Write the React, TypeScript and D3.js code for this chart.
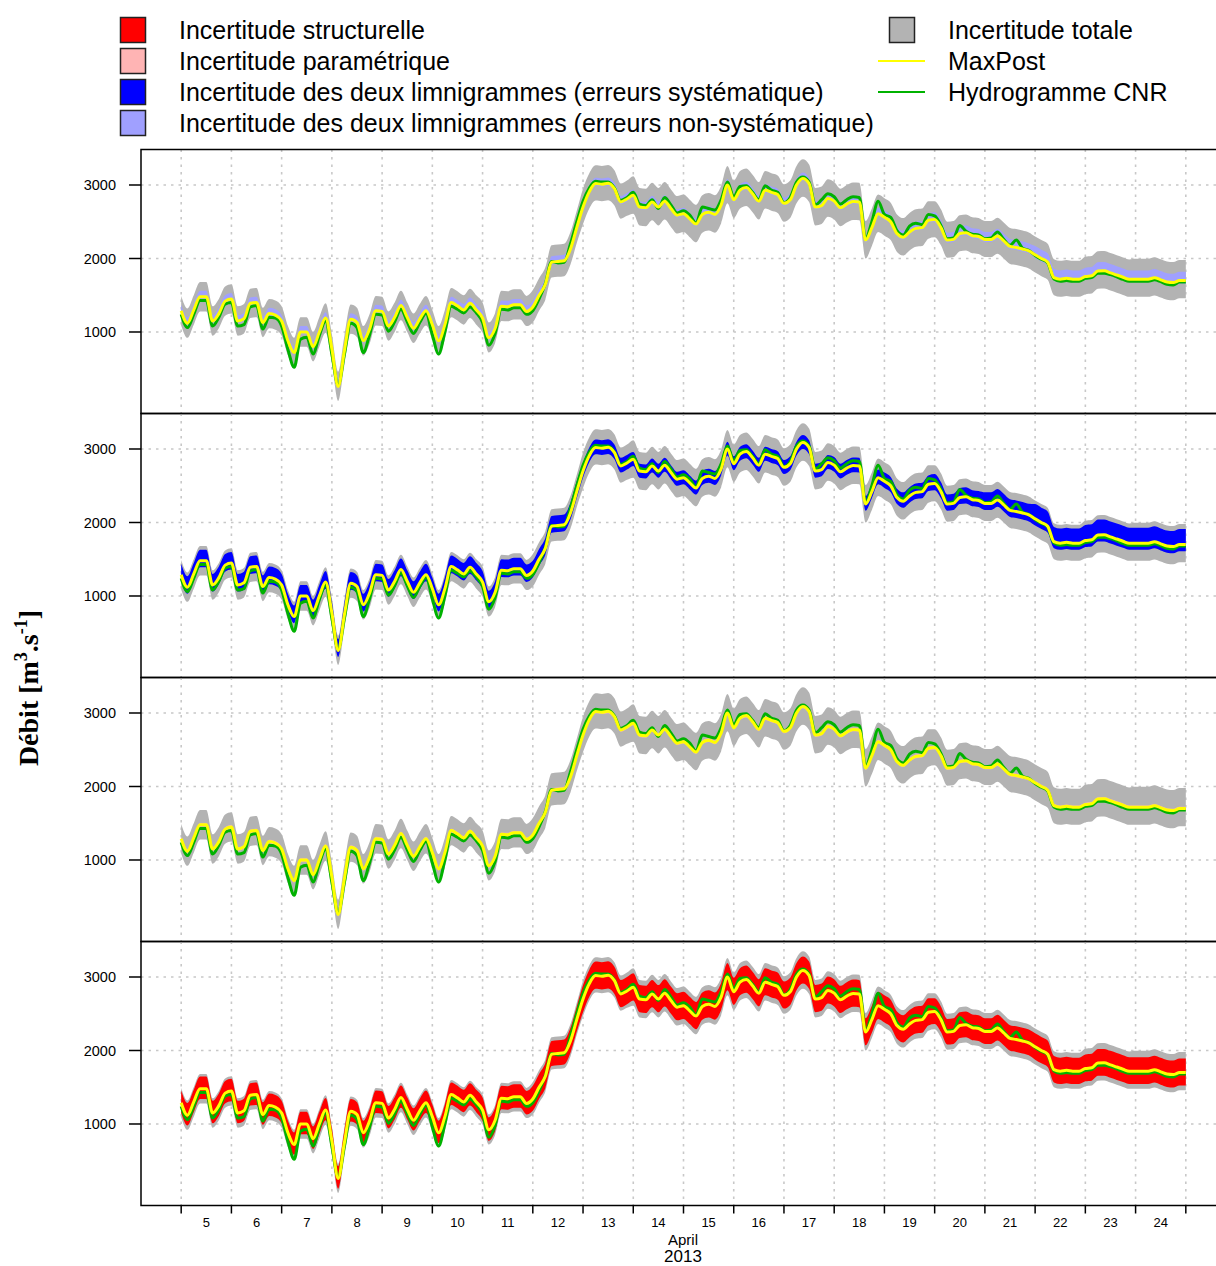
import React from 'react';
import * as d3 from 'd3';

const W = 1216;
const H = 1266;

// Sampling step of the series, in hours from 5 April 2013 00:00
const STEP_H = 3;

// MaxPost discharge (m3/s), every 3 h from 5 Apr 00:00 to 25 Apr 00:00
const maxPost = [
  1290, 1120, 1300, 1480, 1480, 1150, 1250, 1420, // 5
  1450, 1150, 1180, 1390, 1400, 1130, 1250, 1230, // 6
  1150, 880, 720, 1000, 1000, 800, 1000, 1190, // 7
  770, 260, 750, 1175, 1130, 880, 1040, 1290, // 8
  1280, 1080, 1200, 1360, 1200, 1050, 1180, 1290, // 9
  1100, 880, 1100, 1400, 1355, 1300, 1390, 1300, // 10
  1190, 920, 1050, 1350, 1345, 1370, 1370, 1280, // 11
  1340, 1500, 1650, 1950, 1960, 1970, 2130, 2420, // 12
  2700, 2910, 3020, 3010, 3023, 2950, 2770, 2810, // 13
  2860, 2700, 2690, 2770, 2700, 2780, 2680, 2590, // 14
  2610, 2540, 2470, 2600, 2630, 2600, 2730, 3000, // 15
  2800, 2930, 2965, 2880, 2780, 2930, 2900, 2870, // 16
  2750, 2800, 3000, 3090, 3020, 2700, 2720, 2818, // 17
  2780, 2690, 2740, 2775, 2770, 2250, 2420, 2610, // 18
  2560, 2500, 2340, 2290, 2360, 2410, 2420, 2520, // 19
  2530, 2420, 2250, 2260, 2340, 2350, 2310, 2300, // 20
  2260, 2260, 2305, 2240, 2165, 2150, 2130, 2105, // 21
  2050, 2000, 1950, 1740, 1718, 1730, 1718, 1718, // 22
  1755, 1765, 1830, 1832, 1805, 1775, 1745, 1718, // 23
  1718, 1718, 1718, 1738, 1710, 1680, 1673, 1700, // 24
  1700,
];

// CNR hydrograph (m3/s), same time steps
const cnr = [
  1240, 1060, 1240, 1430, 1430, 1080, 1200, 1380,
  1400, 1080, 1100, 1340, 1360, 1040, 1200, 1190,
  1080, 760, 520, 900, 930, 700, 950, 1150,
  700, 280, 700, 1120, 1060, 720, 960, 1240,
  1230, 1010, 1140, 1310, 1140, 980, 1130, 1250,
  960, 700, 1000, 1350, 1310, 1260, 1340, 1260,
  1130, 820, 980, 1310, 1300, 1330, 1330, 1240,
  1290, 1450, 1660, 1960, 1940, 1950, 2200, 2500,
  2780, 2960, 3050, 3040, 3040, 2960, 2790, 2830,
  2900, 2740, 2720, 2800, 2680, 2830, 2730, 2620,
  2650, 2590, 2480, 2700, 2680, 2660, 2800, 3040,
  2840, 2980, 2990, 2900, 2800, 2990, 2930, 2900,
  2760, 2830, 3040, 3110, 3040, 2730, 2800, 2880,
  2840, 2740, 2800, 2840, 2830, 2270, 2500, 2780,
  2600, 2560, 2380, 2320, 2440, 2480, 2460, 2600,
  2580, 2450, 2270, 2280, 2450, 2370, 2330, 2320,
  2270, 2280, 2360, 2260, 2180, 2250, 2140, 2110,
  2040, 1990, 1940, 1720, 1690, 1700, 1690, 1690,
  1730, 1740, 1800, 1800, 1780, 1750, 1715, 1690,
  1690, 1690, 1690, 1710, 1685, 1650, 1640, 1680,
  1680,
];

// Uncertainty band extents above / below MaxPost (m3/s), one value per day (5..24 April)
const totalUp = [200, 200, 200, 200, 200, 200, 210, 230, 250, 260, 260, 260, 260, 260, 260, 250, 250, 250, 270, 280];
const totalDn = [200, 200, 200, 200, 200, 200, 200, 210, 230, 250, 250, 250, 250, 250, 250, 240, 240, 240, 240, 240];
const structUp = [165, 165, 165, 165, 165, 165, 170, 180, 190, 190, 190, 190, 190, 190, 190, 180, 180, 185, 190, 190];
const structDn = [140, 140, 140, 140, 140, 140, 150, 160, 180, 180, 180, 180, 180, 180, 180, 170, 170, 175, 175, 175];
const sysUp = [150, 150, 150, 150, 150, 150, 150, 140, 110, 100, 100, 100, 100, 110, 120, 130, 150, 200, 210, 210];
const sysDn = [90, 90, 90, 90, 90, 90, 90, 90, 90, 90, 90, 90, 90, 90, 90, 90, 90, 90, 90, 90];
const nonSysUp = [80, 80, 80, 80, 80, 80, 80, 80, 80, 80, 80, 80, 80, 80, 90, 100, 100, 120, 120, 120];
const nonSysDn = [30, 30, 30, 30, 30, 30, 30, 30, 30, 30, 30, 30, 30, 30, 30, 35, 35, 40, 40, 40];
const paramUp = [25, 25, 25, 25, 25, 25, 25, 25, 25, 25, 25, 25, 25, 25, 25, 25, 25, 25, 25, 25];
const paramDn = [25, 25, 25, 25, 25, 25, 25, 25, 25, 25, 25, 25, 25, 25, 25, 25, 25, 25, 25, 25];

const dayLabels = ['5', '6', '7', '8', '9', '10', '11', '12', '13', '14', '15', '16', '17', '18', '19', '20', '21', '22', '23', '24'];
const yTicks = [1000, 2000, 3000];

const legendLeft = [
  { label: 'Incertitude structurelle', color: '#FF0000' },
  { label: 'Incertitude paramétrique', color: '#FFB4B4' },
  { label: 'Incertitude des deux limnigrammes (erreurs systématique)', color: '#0000FF' },
  { label: 'Incertitude des deux limnigrammes (erreurs non-systématique)', color: '#A0A0FF' },
];

const COL_TOTAL = '#B3B3B3';
const COL_YELLOW = '#FFFF00';
const COL_GREEN = '#00B200';

const panels = [
  { up: nonSysUp, dn: nonSysDn, color: '#A0A0FF' },
  { up: sysUp, dn: sysDn, color: '#0000FF' },
  { up: paramUp, dn: paramDn, color: '#FFB4B4' },
  { up: structUp, dn: structDn, color: '#FF0000' },
];

const PANEL_TOPS = [149.5, 413.5, 677.5, 941.5];
const PANEL_H = 264;
const PLOT_L = 141;
const PLOT_R = 1226;
const FONT = "'Liberation Sans', Arial, sans-serif";

type Pt = { h: number; v: number; c: number; d: number };

export default function App() {
  const pts: Pt[] = maxPost.map((v, i) => ({
    h: i * STEP_H,
    v,
    c: cnr[i],
    d: Math.min(19, Math.floor((i * STEP_H) / 24)),
  }));

  const x = d3.scaleLinear().domain([-19.2, 499.2]).range([PLOT_L, PLOT_R]);
  const dayTicks = d3.range(0, 21).map((d) => d * 24);
  const curve = d3.curveMonotoneX;

  const bottom = PANEL_TOPS[3] + PANEL_H;

  return (
    <svg
      width={W}
      height={H}
      style={{ position: 'absolute', left: 0, top: 0, background: '#fff' }}
      xmlns="http://www.w3.org/2000/svg"
    >
      <rect x={0} y={0} width={W} height={H} fill="#fff" />
      <defs>
        {PANEL_TOPS.map((t, i) => (
          <clipPath id={`clip${i}`} key={i}>
            <rect x={PLOT_L} y={t} width={PLOT_R - PLOT_L} height={PANEL_H} />
          </clipPath>
        ))}
      </defs>

      {/* Legend */}
      <g fontFamily={FONT} fontSize={25} fill="#000">
        {legendLeft.map((l, i) => (
          <g key={i}>
            <rect x={120.5} y={17.5 + i * 31} width={25} height={25} fill={l.color} stroke="#222" strokeWidth={1.5} />
            <text x={179} y={39 + i * 31}>{l.label}</text>
          </g>
        ))}
        <rect x={889.5} y={17.5} width={25} height={25} fill={COL_TOTAL} stroke="#222" strokeWidth={1.5} />
        <text x={948} y={39}>Incertitude totale</text>
        <line x1={878} x2={925} y1={61} y2={61} stroke={COL_YELLOW} strokeWidth={2} />
        <text x={948} y={70}>MaxPost</text>
        <line x1={878} x2={925} y1={92} y2={92} stroke={COL_GREEN} strokeWidth={2} />
        <text x={948} y={101}>Hydrogramme CNR</text>
      </g>

      {panels.map((p, i) => {
        const top = PANEL_TOPS[i];
        const y = d3.scaleLinear().domain([-109, 3483]).range([top + PANEL_H, top]);
        const area = (up: number[], dn: number[]) =>
          d3
            .area<Pt>()
            .curve(curve)
            .x((d) => x(d.h))
            .y0((d) => y(d.v - dn[d.d]))
            .y1((d) => y(d.v + up[d.d]))(pts) as string;
        const lineV = d3.line<Pt>().curve(curve).x((d) => x(d.h)).y((d) => y(d.v))(pts) as string;
        const lineC = d3.line<Pt>().curve(curve).x((d) => x(d.h)).y((d) => y(d.c))(pts) as string;
        return (
          <g key={i}>
            <g clipPath={`url(#clip${i})`}>
              {dayTicks.map((h) => (
                <line
                  key={h}
                  x1={x(h)}
                  x2={x(h)}
                  y1={top}
                  y2={top + PANEL_H}
                  stroke="#C8C8C8"
                  strokeWidth={1.6}
                  strokeDasharray="2.5,5"
                />
              ))}
              {yTicks.map((t) => (
                <line
                  key={t}
                  x1={PLOT_L}
                  x2={PLOT_R}
                  y1={y(t)}
                  y2={y(t)}
                  stroke="#C8C8C8"
                  strokeWidth={1.6}
                  strokeDasharray="2.5,5"
                />
              ))}
              <path d={area(totalUp, totalDn)} fill={COL_TOTAL} />
              <path d={area(p.up, p.dn)} fill={p.color} />
              <path d={lineC} fill="none" stroke={COL_GREEN} strokeWidth={3} strokeLinejoin="round" />
              <path d={lineV} fill="none" stroke={COL_YELLOW} strokeWidth={3} strokeLinejoin="round" />
            </g>
            <rect x={PLOT_L} y={top} width={PLOT_R - PLOT_L + 10} height={PANEL_H} fill="none" stroke="#000" strokeWidth={1.5} />
            {yTicks.map((t) => (
              <g key={t}>
                <line x1={129} x2={PLOT_L} y1={y(t)} y2={y(t)} stroke="#000" strokeWidth={1.5} />
                <text x={116} y={y(t)} dy="0.35em" textAnchor="end" fontFamily={FONT} fontSize={14.5}>
                  {t}
                </text>
              </g>
            ))}
          </g>
        );
      })}

      {/* X axis */}
      <g fontFamily={FONT} fill="#000">
        {dayTicks.map((h) => (
          <line key={h} x1={x(h)} x2={x(h)} y1={bottom} y2={bottom + 8} stroke="#000" strokeWidth={1.5} />
        ))}
        {dayLabels.map((l, i) => (
          <text key={l} x={x(i * 24 + 12)} y={1227} textAnchor="middle" fontSize={13}>
            {l}
          </text>
        ))}
        <text x={683} y={1245} textAnchor="middle" fontSize={15}>April</text>
        <text x={683} y={1262} textAnchor="middle" fontSize={17}>2013</text>
      </g>

      {/* Y title */}
      <text
        transform="translate(38,688) rotate(-90)"
        textAnchor="middle"
        fontFamily="'Liberation Serif', 'Times New Roman', serif"
        fontWeight="bold"
        fontSize={28}
      >
        Débit [m<tspan dy={-11} fontSize={18}>3</tspan>
        <tspan dy={11}>.s</tspan>
        <tspan dy={-11} fontSize={18}>-1</tspan>
        <tspan dy={11}>]</tspan>
      </text>
    </svg>
  );
}
